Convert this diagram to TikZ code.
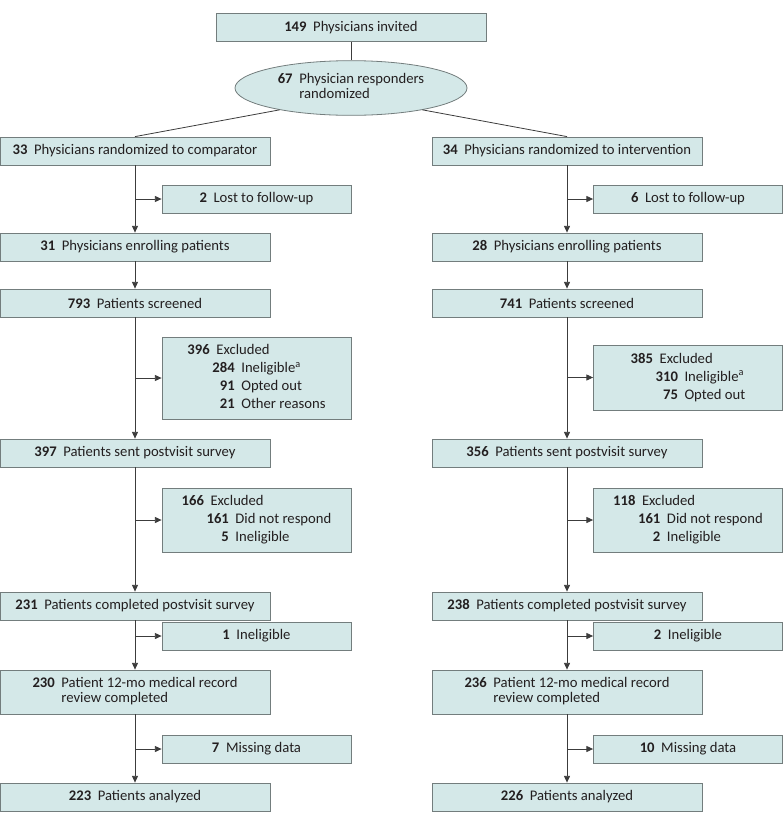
\documentclass[tikz,border=0pt]{standalone}
\usepackage{fontspec}
\setmainfont{Carlito}
\usepackage{tikz}
\usetikzlibrary{arrows.meta,positioning,shapes.geometric}
\definecolor{boxfill}{HTML}{D4E8E8}
\definecolor{boxline}{HTML}{737D7D}
\definecolor{ink}{HTML}{231F20}
\definecolor{wire}{HTML}{3C3C3C}
\newcommand{\cnt}[1]{\textbf{#1}\hspace{0.45em}}
\newcommand{\subcnt}[2]{\makebox[1.25em][r]{\textbf{#1}}\hspace{0.45em}#2}
\tikzset{
    flowbox/.style={draw=boxline,fill=boxfill,line width=0.6pt,
      minimum width=202.5pt,minimum height=21pt,inner sep=2pt,
      text=ink,font=\fontsize{11}{11.5}\selectfont,align=center},
    sidebox/.style={flowbox,minimum width=141.75pt},
    tallbox/.style={minimum height=33pt},
    oval/.style={flowbox,ellipse,minimum width=174pt,minimum height=41pt,inner sep=0pt},
    flowarrow/.style={-{Triangle[length=5pt,width=4.5pt]},draw=wire,line width=0.6pt},
    flowline/.style={draw=wire,line width=0.6pt}
}
\newenvironment{twoline}{\begin{tabular}{@{}l@{\hspace{0.45em}}l@{}}}{\end{tabular}}
\newenvironment{exlist}{\renewcommand{\arraystretch}{1.17}%
  \begin{tabular}{@{}r@{\hspace{0.45em}}l@{}}}{\end{tabular}}

\begin{document}
\begin{tikzpicture}[x=0.75pt,y=-0.75pt]
  \useasboundingbox (0,0) rectangle (783,825);
  % top of the trial
  \node[flowbox] (inv) at (351,27.5) {\cnt{149}Physicians invited};
  \node[oval] (resp) at (351,88) {\begin{twoline}\textbf{67}&Physician responders\\&randomized\end{twoline}};
  % comparator arm
  \node[flowbox] (crand) at (135,151) {\cnt{33}Physicians randomized to comparator};
  \node[sidebox] (clost) at (256.5,199) {\cnt{2}Lost to follow-up};
  \node[flowbox] (cenrol) at (135,247) {\cnt{31}Physicians enrolling patients};
  \node[flowbox] (cscreen) at (135,303) {\cnt{793}Patients screened};
  \node[sidebox,minimum height=61.5pt] (cexcl) at (256.5,378) {\begin{exlist}
    \textbf{396}&Excluded\\
    &\subcnt{284}{Ineligible\textsuperscript{a}}\\
    &\subcnt{91}{Opted out}\\
    &\subcnt{21}{Other reasons}
  \end{exlist}};
  \node[flowbox] (csent) at (135,453) {\cnt{397}Patients sent postvisit survey};
  \node[sidebox,minimum height=48pt] (cdrop) at (256.5,520) {\begin{exlist}
    \textbf{166}&Excluded\\
    &\subcnt{161}{Did not respond}\\
    &\subcnt{5}{Ineligible}
  \end{exlist}};
  \node[flowbox] (ccomp) at (135,606) {\cnt{231}Patients completed postvisit survey};
  \node[sidebox] (cinel) at (256.5,636) {\cnt{1}Ineligible};
  \node[flowbox,tallbox] (crec) at (135,692) {\begin{twoline}\textbf{230}&Patient 12-mo medical record\\&review completed\end{twoline}};
  \node[sidebox] (cmiss) at (256.5,749) {\cnt{7}Missing data};
  \node[flowbox] (cana) at (135,797) {\cnt{223}Patients analyzed};
  % intervention arm
  \node[flowbox] (irand) at (567,151) {\cnt{34}Physicians randomized to intervention};
  \node[sidebox] (ilost) at (688,199) {\cnt{6}Lost to follow-up};
  \node[flowbox] (ienrol) at (567,247) {\cnt{28}Physicians enrolling patients};
  \node[flowbox] (iscreen) at (567,303) {\cnt{741}Patients screened};
  \node[sidebox,minimum height=48.75pt] (iexcl) at (688,377.5) {\begin{exlist}
    \textbf{385}&Excluded\\
    &\subcnt{310}{Ineligible\textsuperscript{a}}\\
    &\subcnt{75}{Opted out}
  \end{exlist}};
  \node[flowbox] (isent) at (567,453) {\cnt{356}Patients sent postvisit survey};
  \node[sidebox,minimum height=48pt] (idrop) at (688,520) {\begin{exlist}
    \textbf{118}&Excluded\\
    &\subcnt{161}{Did not respond}\\
    &\subcnt{2}{Ineligible}
  \end{exlist}};
  \node[flowbox] (icomp) at (567,606) {\cnt{238}Patients completed postvisit survey};
  \node[sidebox] (iinel) at (688,636) {\cnt{2}Ineligible};
  \node[flowbox,tallbox] (irec) at (567,692) {\begin{twoline}\textbf{236}&Patient 12-mo medical record\\&review completed\end{twoline}};
  \node[sidebox] (imiss) at (688,749) {\cnt{10}Missing data};
  \node[flowbox] (iana) at (567,797) {\cnt{226}Patients analyzed};
  % connectors
  \draw[flowline] (inv) -- (resp);
  \draw[flowline] (resp.197) -- (crand.north);
  \draw[flowline] (resp.343) -- (irand.north);
  \foreach \s in {c,i}{
    \foreach \a/\b in {rand/enrol,enrol/screen,screen/sent,sent/comp,comp/rec,rec/ana}
      \draw[flowarrow] (\s\a) -- (\s\b);
    \foreach \a/\b in {rand/lost,screen/excl,sent/drop,comp/inel,rec/miss}
      \draw[flowarrow] (\s\a.south |- \s\b.west) -- (\s\b.west);
  }
\end{tikzpicture}
\end{document}
